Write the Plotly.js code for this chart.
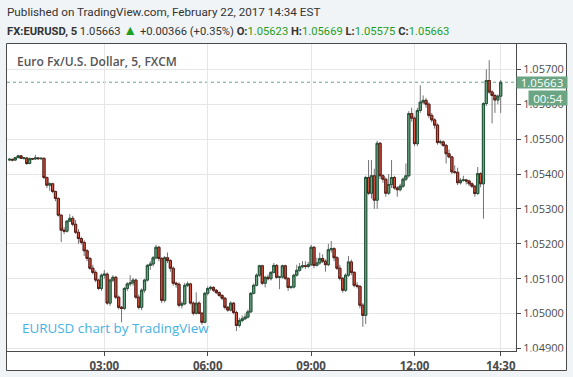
<!DOCTYPE html>
<html>
<head>
<meta charset="utf-8">
<script src="https://cdn.plot.ly/plotly-3.0.1.min.js"></script>
<style>
html,body{margin:0;padding:0;background:#f1f4f6;}
#chart{width:573px;height:377px;}
</style>
</head>
<body>
<div id="chart"></div>
<script>
// EURUSD 5-minute bars, 2017-02-22, first bar 00:15, last bar 14:30
var firstBar = '00:15';
var barMinutes = 5;
var openP = [
1.05440,1.05442,1.05440,1.05447,1.05452,1.05445,1.05446,1.05430,1.05444,1.05443,
1.05446,1.05444,1.05445,1.05390,1.05368,1.05372,1.05350,1.05330,1.05282,1.05239,
1.05236,1.05265,1.05273,1.05256,1.05233,1.05215,1.05204,1.05180,1.05158,1.05130,
1.05118,1.05096,1.05072,1.05110,1.05113,1.05030,1.05096,1.05104,1.05047,1.05018,
1.05015,1.05072,1.05085,1.05088,1.05096,1.05047,1.05018,1.05067,1.05096,1.05138,
1.05142,1.05160,1.05190,1.05158,1.05038,1.05160,1.05152,1.05130,1.05087,1.05084,
1.05024,1.05028,1.05081,1.05085,1.05030,1.05001,1.05030,1.05001,1.04975,1.05058,
1.05072,1.05075,1.05067,1.05060,1.05052,1.05044,1.05018,1.05010,1.05030,1.05003,
1.04966,1.04980,1.04985,1.04990,1.05005,1.05058,1.05081,1.05110,1.05137,1.05087,
1.05104,1.05100,1.05118,1.05138,1.05104,1.05105,1.05137,1.05101,1.05075,1.05076,
1.05110,1.05124,1.05134,1.05137,1.05135,1.05140,1.05190,1.05138,1.05145,1.05158,
1.05150,1.05140,1.05183,1.05186,1.05160,1.05130,1.05101,1.05067,1.05110,1.05148,
1.05118,1.05081,1.05078,1.05024,1.04995,1.05390,1.05345,1.05395,1.05325,1.05488,
1.05395,1.05385,1.05345,1.05370,1.05390,1.05360,1.05355,1.05365,1.05385,1.05395,
1.05573,1.05560,1.05487,1.05582,1.05606,1.05611,1.05600,1.05568,1.05555,1.05540,
1.05490,1.05492,1.05482,1.05458,1.05449,1.05406,1.05405,1.05375,1.05382,1.05383,
1.05380,1.05372,1.05365,1.05344,1.05401,1.05372,1.05602,1.05668,1.05635,1.05625,
1.05612,1.05623];
var highP = [
1.05446,1.05444,1.05449,1.05455,1.05454,1.05449,1.05448,1.05447,1.05446,1.05455,
1.05448,1.05447,1.05447,1.05393,1.05376,1.05375,1.05352,1.05333,1.05285,1.05248,
1.05268,1.05285,1.05280,1.05268,1.05242,1.05220,1.05210,1.05185,1.05162,1.05140,
1.05124,1.05100,1.05115,1.05125,1.05118,1.05100,1.05110,1.05108,1.05052,1.05022,
1.05076,1.05090,1.05110,1.05102,1.05100,1.05055,1.05072,1.05100,1.05142,1.05150,
1.05165,1.05197,1.05194,1.05162,1.05165,1.05175,1.05156,1.05135,1.05092,1.05090,
1.05035,1.05088,1.05092,1.05088,1.05035,1.05061,1.05035,1.05005,1.05062,1.05078,
1.05080,1.05078,1.05070,1.05064,1.05056,1.05048,1.05022,1.05035,1.05033,1.05008,
1.04988,1.04995,1.05000,1.05012,1.05062,1.05086,1.05115,1.05140,1.05140,1.05108,
1.05112,1.05122,1.05145,1.05142,1.05108,1.05140,1.05140,1.05104,1.05080,1.05114,
1.05140,1.05145,1.05150,1.05150,1.05148,1.05197,1.05193,1.05160,1.05175,1.05170,
1.05155,1.05200,1.05208,1.05190,1.05165,1.05140,1.05105,1.05115,1.05165,1.05155,
1.05122,1.05090,1.05082,1.05030,1.05395,1.05440,1.05440,1.05415,1.05495,1.05492,
1.05400,1.05390,1.05400,1.05440,1.05395,1.05365,1.05372,1.05390,1.05430,1.05580,
1.05590,1.05565,1.05590,1.05654,1.05625,1.05618,1.05605,1.05575,1.05560,1.05545,
1.05498,1.05496,1.05486,1.05470,1.05452,1.05425,1.05418,1.05388,1.05395,1.05386,
1.05384,1.05376,1.05368,1.05420,1.05405,1.05605,1.05700,1.05726,1.05640,1.05630,
1.05628,1.05669];
var lowP = [
1.05437,1.05436,1.05438,1.05445,1.05443,1.05441,1.05426,1.05428,1.05440,1.05441,
1.05441,1.05440,1.05385,1.05360,1.05352,1.05345,1.05322,1.05278,1.05205,1.05228,
1.05232,1.05262,1.05250,1.05228,1.05200,1.05198,1.05165,1.05150,1.05125,1.05112,
1.05090,1.05068,1.05065,1.05100,1.05025,1.05022,1.05090,1.05042,1.05012,1.04975,
1.05010,1.05065,1.05078,1.05080,1.05042,1.05012,1.05010,1.05060,1.05092,1.05125,
1.05135,1.05155,1.05150,1.05030,1.05032,1.05145,1.05120,1.05080,1.05074,1.05018,
1.05015,1.05024,1.05076,1.05026,1.04995,1.04997,1.04998,1.04968,1.04972,1.05052,
1.05066,1.05062,1.05056,1.05048,1.05038,1.05012,1.05005,1.05006,1.04998,1.04950,
1.04960,1.04975,1.04982,1.04986,1.05002,1.05055,1.05078,1.05105,1.05082,1.05075,
1.05095,1.05095,1.05115,1.05100,1.05070,1.05100,1.05096,1.05065,1.05070,1.05072,
1.05106,1.05120,1.05130,1.05128,1.05130,1.05136,1.05130,1.05135,1.05140,1.05145,
1.05120,1.05136,1.05175,1.05150,1.05125,1.05095,1.05060,1.05062,1.05105,1.05110,
1.05075,1.05072,1.05015,1.04962,1.04970,1.05340,1.05330,1.05300,1.05300,1.05385,
1.05375,1.05335,1.05340,1.05360,1.05355,1.05335,1.05350,1.05360,1.05380,1.05390,
1.05550,1.05480,1.05480,1.05575,1.05600,1.05590,1.05560,1.05548,1.05530,1.05484,
1.05485,1.05478,1.05430,1.05445,1.05400,1.05400,1.05368,1.05370,1.05378,1.05370,
1.05365,1.05360,1.05335,1.05340,1.05362,1.05272,1.05595,1.05630,1.05545,1.05575,
1.05600,1.05575];
var closeP = [
1.05442,1.05440,1.05447,1.05452,1.05445,1.05446,1.05430,1.05444,1.05443,1.05446,
1.05444,1.05445,1.05390,1.05368,1.05372,1.05350,1.05330,1.05282,1.05239,1.05236,
1.05265,1.05273,1.05256,1.05233,1.05215,1.05204,1.05180,1.05158,1.05130,1.05118,
1.05096,1.05072,1.05110,1.05113,1.05030,1.05096,1.05104,1.05047,1.05018,1.05015,
1.05072,1.05085,1.05088,1.05096,1.05047,1.05018,1.05067,1.05096,1.05138,1.05142,
1.05160,1.05190,1.05158,1.05038,1.05160,1.05152,1.05130,1.05087,1.05084,1.05024,
1.05028,1.05081,1.05085,1.05030,1.05001,1.05030,1.05001,1.04975,1.05058,1.05072,
1.05075,1.05067,1.05060,1.05052,1.05044,1.05018,1.05010,1.05030,1.05003,1.04966,
1.04980,1.04985,1.04990,1.05005,1.05058,1.05081,1.05110,1.05137,1.05087,1.05104,
1.05100,1.05118,1.05138,1.05104,1.05105,1.05137,1.05101,1.05075,1.05076,1.05110,
1.05124,1.05134,1.05137,1.05135,1.05140,1.05190,1.05138,1.05145,1.05158,1.05150,
1.05140,1.05183,1.05186,1.05160,1.05130,1.05101,1.05067,1.05110,1.05148,1.05118,
1.05081,1.05078,1.05024,1.04995,1.05390,1.05345,1.05395,1.05325,1.05488,1.05395,
1.05385,1.05345,1.05370,1.05390,1.05360,1.05355,1.05365,1.05385,1.05395,1.05573,
1.05560,1.05487,1.05582,1.05606,1.05611,1.05600,1.05568,1.05555,1.05540,1.05490,
1.05492,1.05482,1.05458,1.05449,1.05406,1.05405,1.05375,1.05382,1.05383,1.05380,
1.05372,1.05365,1.05344,1.05401,1.05372,1.05602,1.05668,1.05635,1.05625,1.05612,
1.05623,1.05663];
var xTickVals = ['2017-02-22 03:00','2017-02-22 06:00','2017-02-22 09:00','2017-02-22 12:00','2017-02-22 14:30'];
var xTickText = ['03:00','06:00','09:00','12:00','14:30'];
var yTickVals = [1.049,1.050,1.051,1.052,1.053,1.054,1.055,1.056,1.057];
var lastPrice = 1.05663;
var lastPriceText = '1.05663';
var countdownText = '00:54';

// timestamps
var t0 = 15; // minutes after midnight for firstBar
var times = openP.map(function(_, i){
  var m = t0 + i*barMinutes;
  var hh = Math.floor(m/60), mm = m%60;
  return '2017-02-22 ' + (hh<10?'0':'') + hh + ':' + (mm<10?'0':'') + mm;
});
var bodyHigh = openP.map(function(o,i){return Math.max(o, closeP[i]);});
var bodyLow = openP.map(function(o,i){return Math.min(o, closeP[i]);});

// pixel helpers for layout positions
var L=7, R=516, T=44, B=351;
function xp(px){return (px-L)/(R-L);}
function yp(py){return (B-py)/(B-T);}

var UP='#6ba583', UPB='#225437', DN='#d75442', DNB='#5b1a13', WICK='#737375';
var TXT='#4a4a4a', GREEN='#1f9f1f';
var FONT='"Open Sans", "Liberation Sans", sans-serif';
var HFONT='Roboto, "Open Sans", sans-serif';

var wicks = {
  type:'candlestick', x:times, open:openP, high:highP, low:lowP, close:closeP,
  increasing:{line:{color:WICK,width:1}, fillcolor:WICK},
  decreasing:{line:{color:WICK,width:1}, fillcolor:WICK},
  hoverinfo:'skip', showlegend:false
};
var bodies = {
  type:'candlestick', x:times, open:openP, high:bodyHigh, low:bodyLow, close:closeP,
  increasing:{line:{color:UPB,width:1}, fillcolor:UP},
  decreasing:{line:{color:DNB,width:1}, fillcolor:DN},
  hoverinfo:'skip', showlegend:false
};

var G = function(s){return '<span style="color:'+GREEN+'">'+s+'</span>';};

var layout = {
  width:573, height:377,
  margin:{l:L, r:573-R, t:T, b:377-B, pad:0},
  paper_bgcolor:'#f1f4f6', plot_bgcolor:'rgba(0,0,0,0)',
  font:{family:FONT, color:TXT, size:12},
  showlegend:false, boxgap:0.25, boxgroupgap:0,
  xaxis:{
    type:'date', range:['2017-02-22 00:10:37','2017-02-22 14:56:38'],
    rangeslider:{visible:false},
    tickmode:'array', tickvals:xTickVals, ticktext:xTickText,
    showgrid:true, gridcolor:'#e6e6e6', gridwidth:1,
    ticks:'outside', ticklen:4, tickcolor:TXT,
    showline:true, linecolor:TXT, linewidth:1,
    tickfont:{family:FONT, size:11.5, color:TXT, weight:'bold'},
    zeroline:false, fixedrange:true
  },
  yaxis:{
    side:'right', range:[1.048928,1.057725],
    tickmode:'array', tickvals:yTickVals, tickformat:'.5f',
    showgrid:true, gridcolor:'#e6e6e6', gridwidth:1,
    ticks:'outside', ticklen:4, tickcolor:TXT,
    showline:true, linecolor:TXT, linewidth:1,
    tickfont:{family:FONT, size:11, color:TXT},
    zeroline:false, fixedrange:true
  },
  shapes:[
    {type:'rect', xref:'paper', yref:'paper', x0:xp(6.5), x1:xp(566.5), y0:yp(370.5), y1:yp(43.5),
     fillcolor:'#ffffff', line:{color:TXT, width:1}, layer:'below'},
    {type:'line', xref:'paper', yref:'y', x0:0, x1:1, y0:lastPrice, y1:lastPrice,
     line:{color:UP, width:1, dash:'dot'}, layer:'below'},
    {type:'rect', xref:'paper', yref:'paper', x0:xp(517), x1:xp(566), y0:yp(370), y1:yp(351.5),
     fillcolor:'#ffffff', line:{width:0}, layer:'above'}
  ],
  annotations:[
    {xref:'paper', yref:'paper', x:xp(5), y:yp(12), xanchor:'left', yanchor:'middle', showarrow:false,
     text:'Published on TradingView.com, February 22, 2017 14:34 EST', font:{family:HFONT, size:11.7, color:'#333'}},
    {xref:'paper', yref:'paper', x:xp(5), y:yp(30), xanchor:'left', yanchor:'middle', showarrow:false,
     text:'<b>FX:EURUSD, 5</b> 1.05663 <span style="color:'+GREEN+';font-size:14px">▲</span> +0.00366 (+0.35%) <b>O:</b>'+G('1.05623')+' <b>H:</b>'+G('1.05669')+' <b>L:</b>'+G('1.05575')+' <b>C:</b>'+G('1.05663'),
     font:{family:HFONT, size:11.2, color:'#333'}},
    {xref:'paper', yref:'paper', x:xp(15), y:yp(61), xanchor:'left', yanchor:'middle', showarrow:false,
     text:'Euro Fx/U.S. Dollar, 5, FXCM', font:{family:FONT, size:12, color:'#555', weight:600}},
    {xref:'paper', yref:'paper', x:xp(20), y:yp(328), xanchor:'left', yanchor:'middle', showarrow:false,
     text:'EURUSD chart by TradingView', font:{family:FONT, size:13.4, color:'#45b2e6'}},
    {xref:'paper', yref:'y', x:xp(516), y:lastPrice, xanchor:'left', yanchor:'middle', showarrow:false,
     text:lastPriceText, bgcolor:UP, borderpad:0, width:50, height:11, align:'center',
     font:{family:FONT, size:11.5, color:'#ffffff'}},
    {xref:'paper', yref:'paper', x:xp(528), y:yp(98), xanchor:'left', yanchor:'middle', showarrow:false,
     text:countdownText, bgcolor:UP, borderpad:2, width:34, height:10, align:'center',
     font:{family:FONT, size:11.5, color:'#ffffff'}}
  ]
};

Plotly.newPlot('chart', [wicks, bodies], layout, {staticPlot:true, displayModeBar:false});
</script>
</body>
</html>
